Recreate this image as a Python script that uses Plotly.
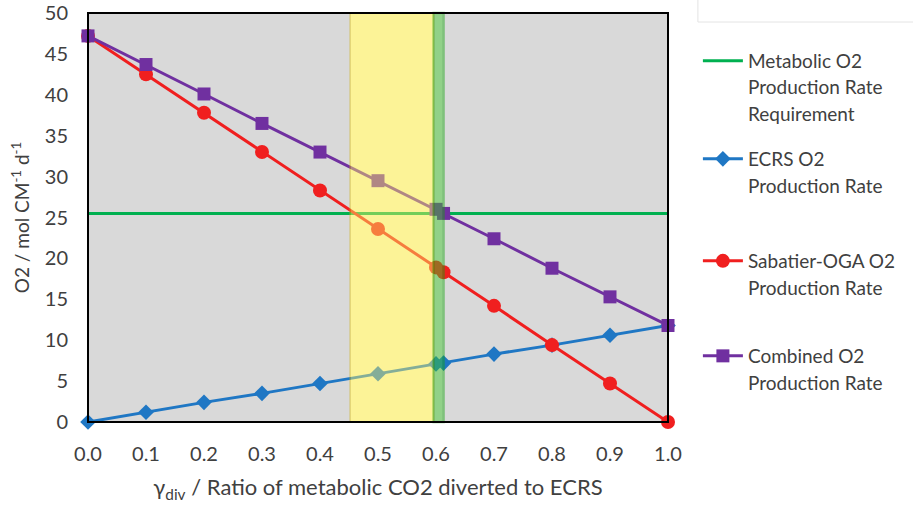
import plotly.graph_objects as go

x_vals = [0.0, 0.1, 0.2, 0.3, 0.4, 0.5, 0.6, 0.613, 0.7, 0.8, 0.9, 1.0]
ecrs = [0.0, 1.2, 2.4, 3.5, 4.7, 5.9, 7.1, 7.2, 8.3, 9.4, 10.6, 11.8]
sabatier = [47.2, 42.5, 37.8, 33.0, 28.3, 23.6, 18.9, 18.3, 14.2, 9.4, 4.7, 0.0]
combined = [47.2, 43.7, 40.1, 36.5, 33.0, 29.5, 26.0, 25.5, 22.4, 18.8, 15.3, 11.8]
metabolic_x = [0.0, 1.0]
metabolic = [25.5, 25.5]

yellow_band = [0.452, 0.596]
green_band = [0.596, 0.613]

x_ticks = [0.0, 0.1, 0.2, 0.3, 0.4, 0.5, 0.6, 0.7, 0.8, 0.9, 1.0]
y_ticks = [0, 5, 10, 15, 20, 25, 30, 35, 40, 45, 50]

legend_lines = [
    ["Metabolic O2", "Production Rate", "Requirement"],
    ["ECRS O2", "Production Rate"],
    ["Sabatier-OGA O2", "Production Rate"],
    ["Combined O2", "Production Rate"],
]

FONT = "Lato"
TXT = "#404040"
FS_LEG = 19
FS_TICK = 20

GREEN = "#00b050"
BLUE = "#1f77c4"
RED = "#f01f1f"
PURPLE = "#7030a0"

fig = go.Figure()

fig.add_trace(go.Scatter(x=metabolic_x, y=metabolic, mode="lines", name=legend_lines[0][0],
                         line=dict(color=GREEN, width=3), legend="legend", cliponaxis=False))
fig.add_trace(go.Scatter(x=x_vals, y=ecrs, mode="lines+markers", name=legend_lines[1][0],
                         line=dict(color=BLUE, width=3),
                         marker=dict(symbol="diamond", size=12, color=BLUE),
                         legend="legend2", cliponaxis=False))
fig.add_trace(go.Scatter(x=x_vals, y=sabatier, mode="lines+markers", name=legend_lines[2][0],
                         line=dict(color=RED, width=3),
                         marker=dict(symbol="circle", size=14, color=RED),
                         legend="legend3", cliponaxis=False))
fig.add_trace(go.Scatter(x=x_vals, y=combined, mode="lines+markers", name=legend_lines[3][0],
                         line=dict(color=PURPLE, width=3),
                         marker=dict(symbol="square", size=13, color=PURPLE),
                         legend="legend4", cliponaxis=False))


def py(p):
    return (422 - p) / 409.0


def px(p):
    return (p - 88) / 582.0


# yellow band: pale base below the traces + tinting overlay above
fig.add_shape(type="rect", xref="x", yref="paper", x0=yellow_band[0], x1=yellow_band[1], y0=0, y1=1,
              fillcolor="rgb(250,247,195)", layer="below", line=dict(width=0))
fig.add_shape(type="rect", xref="x", yref="paper", x0=yellow_band[0], x1=yellow_band[1], y0=0, y1=1,
              fillcolor="rgb(255,240,100)", opacity=0.45, layer="above",
              line=dict(color="rgb(205,175,20)", width=1.5))
fig.add_shape(type="rect", xref="x", yref="paper", x0=green_band[0], x1=green_band[1], y0=0, y1=1,
              fillcolor="rgb(60,200,40)", opacity=0.45, layer="above",
              line=dict(color="rgb(20,165,10)", width=2.5))
fig.add_shape(type="rect", xref="paper", yref="paper", x0=0, x1=1, y0=0, y1=1,
              fillcolor="rgba(0,0,0,0)", layer="above", line=dict(color="black", width=2))
# faint empty box at the top right corner
fig.add_shape(type="rect", xref="paper", yref="paper", x0=px(700), x1=px(920), y0=py(22), y1=py(-5),
              fillcolor="rgba(0,0,0,0)", layer="above", line=dict(color="#e4e4e4", width=1))

legend_centers = [60, 158, 260, 355]
leg_common = dict(x=px(700), xanchor="left", yanchor="top", bgcolor="rgba(0,0,0,0)",
                  font=dict(family=FONT, size=FS_LEG, color=TXT), borderwidth=0, itemwidth=40)
layout_legends = {}
for i, c in enumerate(legend_centers):
    key = "legend" if i == 0 else f"legend{i+1}"
    layout_legends[key] = dict(y=py(c - 18), **leg_common)

annotations = []
line_h = 27
for i, lines in enumerate(legend_lines):
    for j, t in enumerate(lines[1:], start=1):
        annotations.append(dict(xref="paper", yref="paper", x=px(748),
                                y=py(legend_centers[i] + j * line_h), xanchor="left", yanchor="middle",
                                text=t, showarrow=False,
                                font=dict(family=FONT, size=FS_LEG, color=TXT)))

fig.update_layout(
    width=913, height=506,
    margin=dict(l=88, r=243, t=13, b=84),
    paper_bgcolor="white",
    plot_bgcolor="#d9d9d9",
    font=dict(family=FONT, size=FS_TICK, color=TXT),
    showlegend=True,
    annotations=annotations,
    xaxis=dict(range=[0, 1], tickvals=x_ticks, tickformat=".1f", showgrid=False, zeroline=False,
               ticks="", showline=False, automargin=False, ticklabelstandoff=18,
               tickfont=dict(family=FONT, size=FS_TICK, color=TXT),
               title=dict(text="γ<sub>div</sub> / Ratio of metabolic CO2 diverted to ECRS",
                          font=dict(family=FONT, size=22, color=TXT), standoff=15)),
    yaxis=dict(range=[0, 50], tickvals=y_ticks, showgrid=False, zeroline=False, ticks="",
               showline=False, automargin=False, ticklabelstandoff=19,
               tickfont=dict(family=FONT, size=FS_TICK, color=TXT),
               title=dict(text="O2 / mol CM<sup>-1</sup> d<sup>-1</sup>",
                          font=dict(family=FONT, size=19, color=TXT), standoff=10)),
    **layout_legends,
)

fig.write_html("out.html", config={"displayModeBar": False},
               post_script="document.body.style.margin='0';")
